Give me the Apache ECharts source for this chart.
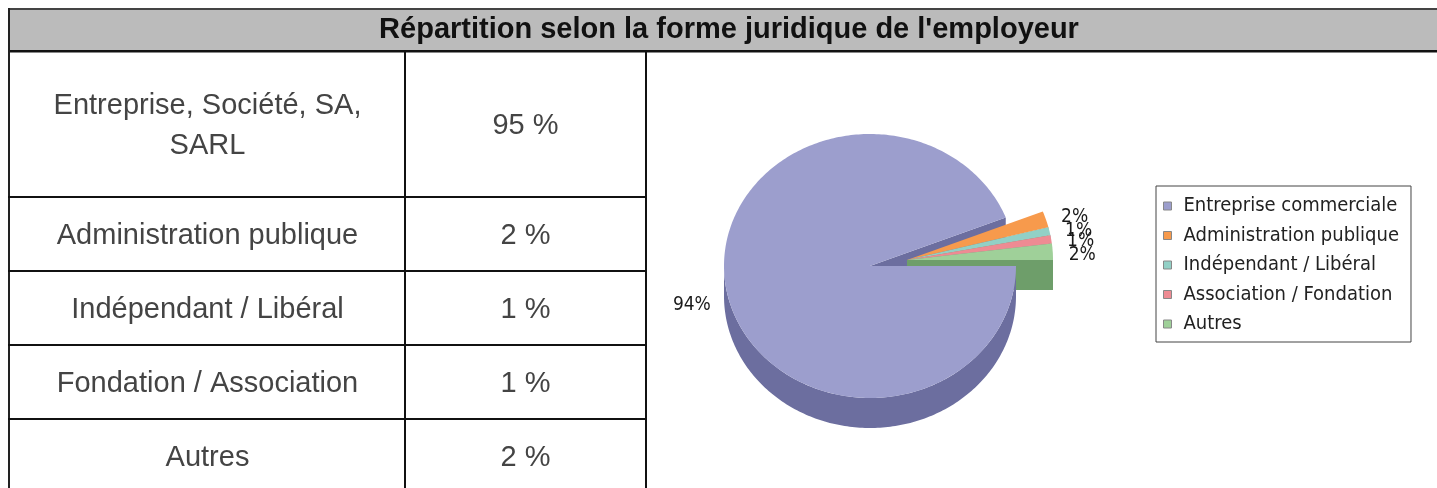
<!DOCTYPE html>
<html>
<head>
<meta charset="utf-8">
<script src="https://cdn.jsdelivr.net/npm/echarts@6/dist/echarts.min.js"></script>
<style>
html,body{margin:0;padding:0;background:#ffffff;}
#c{width:1437px;height:488px;}
</style>
</head>
<body>
<div id="c"></div>
<script>
// ---------- DATA ----------
const tableTitle = "Répartition selon la forme juridique de l'employeur";
const tableLabels = ['Entreprise, Société, SA,\nSARL', 'Administration publique', 'Indépendant / Libéral', 'Fondation / Association', 'Autres'];
const tableValues = [95, 2, 1, 1, 2];
const pieCategories = ['Entreprise commerciale', 'Administration publique', 'Indépendant / Libéral', 'Association / Fondation', 'Autres'];
const pieValues = [94, 2, 1, 1, 2];

// ---------- STYLE / LAYOUT ----------
const topColors = ['#9c9ecd', '#f79a4c', '#92d0c6', '#ee8b93', '#9fd099'];
const sideColors = ['#6c6e9f', '#c4763a', '#6aa096', '#bb6770', '#6e9e6a'];
const PIE = { cx: 870, cy: 266, rx: 146, ry: 132, depth: 30, explode: [37, -6] };
const TABLE = { left: 8, top: 8, titleBottom: 51, colX: [8, 405, 646], rowY: [51, 197, 271, 345, 419, 493] };
const cellFont = '29px "Liberation Sans", Arial, sans-serif';
const titleFont = 'bold 29px "Liberation Sans", Arial, sans-serif';
const pieFontFamily = '"DejaVu Sans Condensed", "DejaVu Sans", sans-serif';

const total = pieValues.reduce((a, b) => a + b, 0);
const startAngles = [];
(function () { let acc = 0; pieValues.forEach(v => { startAngles.push(acc / total * 360); acc += v; }); })();

const RAD = Math.PI / 180;
function off(i) { return i === 0 ? [0, 0] : PIE.explode; }
function pt(a, ox, oy, dy) {
  return [PIE.cx + ox + PIE.rx * Math.cos(a * RAD), PIE.cy + oy + PIE.ry * Math.sin(a * RAD) + (dy || 0)];
}
function arc(a0, a1, ox, oy, dy) {
  const pts = [];
  const n = Math.max(2, Math.ceil(Math.abs(a1 - a0)));
  for (let k = 0; k <= n; k++) pts.push(pt(a0 + (a1 - a0) * k / n, ox, oy, dy));
  return pts;
}

function renderSides(params, api) {
  const i = params.dataIndex;
  const v = api.value(0);
  const a0 = startAngles[i], a1 = a0 + v / total * 360;
  const [ox, oy] = off(i);
  const apex = [PIE.cx + ox, PIE.cy + oy];
  const children = [];
  function radial(a) {
    const rim = pt(a, ox, oy, 0);
    return { type: 'polygon', z2: 1, shape: { points: [apex, rim, [rim[0], rim[1] + PIE.depth], [apex[0], apex[1] + PIE.depth]] }, style: { fill: sideColors[i] } };
  }
  if (Math.cos(a1 * RAD) > 0) children.push(radial(a1));
  if (Math.cos(a0 * RAD) < 0) children.push(radial(a0));
  const f0 = Math.max(a0, 0), f1 = Math.min(a1, 180);
  if (f1 > f0) {
    const topArc = arc(f0, f1, ox, oy, 0);
    const botArc = arc(f1, f0, ox, oy, PIE.depth);
    children.push({ type: 'polygon', z2: 2, shape: { points: topArc.concat(botArc) }, style: { fill: sideColors[i] } });
  }
  return { type: 'group', children };
}

function renderTops(params, api) {
  const i = params.dataIndex;
  const v = api.value(0);
  const a0 = startAngles[i], a1 = a0 + v / total * 360;
  const [ox, oy] = off(i);
  const apex = [PIE.cx + ox, PIE.cy + oy];
  const pts = [apex].concat(arc(a0, a1, ox, oy, 0));
  const mid = (a0 + a1) / 2 * RAD;
  const c = Math.cos(mid), s = Math.sin(mid);
  const lx = apex[0] + (PIE.rx + 16) * c;
  const ly = apex[1] + (PIE.ry + 22) * s + (s > 0 ? s * PIE.depth : 0) + 5;
  return {
    type: 'group',
    children: [
      { type: 'polygon', shape: { points: pts }, style: { fill: topColors[i] } },
      { type: 'text', z2: 10, style: { text: Math.round(v / total * 100) + '%', x: lx, y: ly, align: c < 0 ? 'right' : 'left', verticalAlign: 'middle', fontFamily: pieFontFamily, fontSize: 19, fill: '#1a1a1a' } }
    ]
  };
}

// ---------- TABLE GRAPHICS ----------
const g = [];
const right = 1450;
g.push({ type: 'rect', shape: { x: TABLE.left, y: TABLE.top, width: right - TABLE.left, height: TABLE.titleBottom - TABLE.top }, style: { fill: '#bbbbbb' } });
g.push({ type: 'rect', shape: { x: TABLE.left, y: TABLE.top, width: right - TABLE.left, height: 2 }, style: { fill: '#444444' } });
g.push({ type: 'rect', shape: { x: TABLE.left, y: TABLE.titleBottom - 1, width: right - TABLE.left, height: 2.5 }, style: { fill: '#111111' } });
g.push({ type: 'rect', shape: { x: TABLE.left, y: TABLE.top, width: 2, height: 500 }, style: { fill: '#222222' } });
[TABLE.colX[1], TABLE.colX[2]].forEach(x => {
  g.push({ type: 'rect', shape: { x: x - 1, y: TABLE.titleBottom, width: 2, height: 450 }, style: { fill: '#111111' } });
});
TABLE.rowY.slice(1, 5).forEach(y => {
  g.push({ type: 'rect', shape: { x: TABLE.left, y: y - 1, width: TABLE.colX[2] - TABLE.left + 1, height: 2 }, style: { fill: '#111111' } });
});
g.push({ type: 'text', x: 729, y: 30, style: { text: tableTitle, font: titleFont, fill: '#111111', align: 'center', verticalAlign: 'middle' } });
tableLabels.forEach((lab, i) => {
  const yc = (TABLE.rowY[i] + TABLE.rowY[i + 1]) / 2 + 2;
  g.push({ type: 'text', x: (TABLE.colX[0] + TABLE.colX[1]) / 2 + 1, y: yc, style: { text: lab, font: cellFont, fill: '#444444', align: 'center', verticalAlign: 'middle', lineHeight: 40 } });
  g.push({ type: 'text', x: (TABLE.colX[1] + TABLE.colX[2]) / 2, y: yc, style: { text: tableValues[i] + ' %', font: cellFont, fill: '#444444', align: 'center', verticalAlign: 'middle' } });
});

const chart = echarts.init(document.getElementById('c'), null, { renderer: 'canvas' });
const pieData = pieValues.map((v, i) => ({ name: pieCategories[i], value: v, itemStyle: { color: topColors[i] } }));
chart.setOption({
  animation: false,
  backgroundColor: '#ffffff',
  graphic: g,
  legend: {
    data: pieCategories,
    orient: 'vertical',
    left: 1156,
    top: 186,
    padding: [10, 12, 8, 7],
    itemWidth: 8,
    itemHeight: 8,
    itemGap: 9.5,
    icon: 'rect',
    borderColor: '#444444',
    borderWidth: 1,
    backgroundColor: '#ffffff',
    selectedMode: false,
    itemStyle: { borderColor: '#888888', borderWidth: 1 },
    textStyle: { fontFamily: pieFontFamily, fontSize: 20, color: '#222222', lineHeight: 20, padding: [0, 0, 0, 7] }
  },
  series: [
    {
      type: 'pie', name: 'legend', radius: [0, 0], center: [PIE.cx, PIE.cy], silent: true,
      label: { show: false }, labelLine: { show: false }, emphasis: { disabled: true }, data: pieData
    },
    {
      type: 'custom', name: 'sides', coordinateSystem: 'none', z: 2, silent: true,
      renderItem: renderSides, data: pieValues.map((v, i) => ({ name: pieCategories[i], value: v }))
    },
    {
      type: 'custom', name: 'tops', coordinateSystem: 'none', z: 3, silent: true,
      renderItem: renderTops, data: pieValues.map((v, i) => ({ name: pieCategories[i], value: v }))
    }
  ]
});
</script>
</body>
</html>
